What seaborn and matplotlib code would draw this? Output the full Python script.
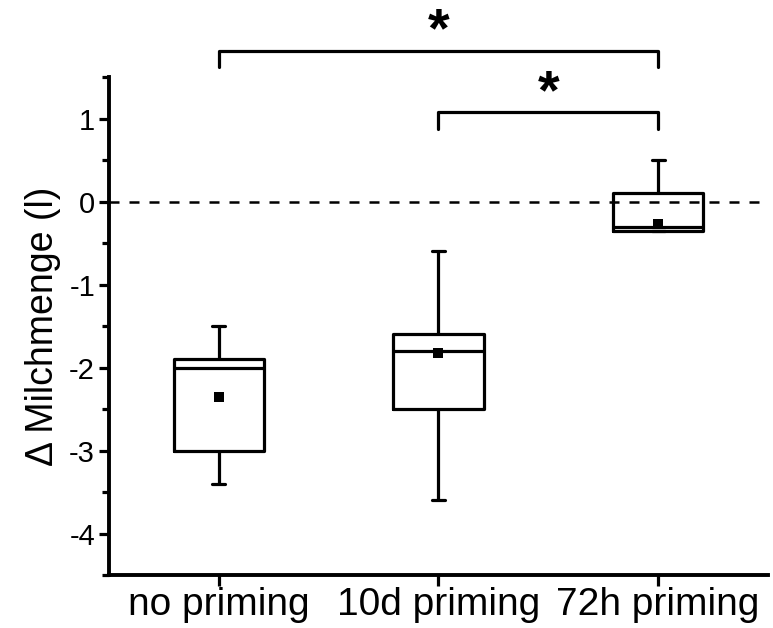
import matplotlib
matplotlib.use("Agg")
import matplotlib.pyplot as plt
from matplotlib.ticker import MultipleLocator
import pandas as pd
import seaborn as sns

# five-number summaries (min, q1, median, q3, max)
groups = ["no priming", "10d priming", "72h priming"]
whisker_low = [-3.4, -3.6, -0.35]
box_low = [-3.0, -2.5, -0.35]
medians = [-2.0, -1.8, -0.3]
box_high = [-1.9, -1.6, 0.1]
whisker_high = [-1.5, -0.6, 0.5]
means = [-2.35, -1.83, -0.27]

# significance brackets: (left group, right group, height, star height, label)
brackets = [(0, 2, 1.82, 2.12, "*"), (1, 2, 1.08, 1.37, "*")]

rows = []
for i, g in enumerate(groups):
    for v in (whisker_low[i], box_low[i], medians[i], box_high[i], whisker_high[i]):
        rows.append({"group": g, "value": v})
df = pd.DataFrame(rows)

sns.set_style("ticks")
plt.rcParams["font.family"] = ["Liberation Sans", "DejaVu Sans"]
plt.rcParams["text.color"] = "black"
plt.rcParams["axes.labelcolor"] = "black"

fig = plt.figure(figsize=(7.73, 6.28), dpi=100)
ax = fig.add_axes([0.141, 0.0844, 0.8525, 0.7926])

lw = 2.3
sns.boxplot(data=df, x="group", y="value", order=groups, whis=(0, 100),
            fill=False, color="black", linecolor="black", width=0.41,
            linewidth=lw, capwidths=0.06, ax=ax)
sns.stripplot(x=groups, y=means, order=groups, jitter=False, marker="s",
              size=7.5, color="black", linewidth=0, ax=ax, zorder=5)

ax.axhline(0, color="black", lw=1.8, ls=(0, (4, 4)), zorder=0)

for a, b, h, sh, label in brackets:
    ax.plot([a, a, b, b], [h - 0.2, h, h, h - 0.2], color="black", lw=lw,
            clip_on=False, solid_capstyle="round")
    ax.text((a + b) / 2, sh, label, ha="center", va="center_baseline",
            fontsize=40, fontweight="bold", color="black", clip_on=False)

ax.set_xlim(-0.5, 2.5)
ax.set_ylim(-4.5, 1.5)
ax.yaxis.set_major_locator(MultipleLocator(1))
ax.yaxis.set_minor_locator(MultipleLocator(0.5))
ax.set_yticks([-4, -3, -2, -1, 0, 1])
ax.set_yticklabels(["-4", "-3", "-2", "-1", "0", "1"])
ax.tick_params(axis="y", which="major", labelsize=21, length=7, width=2.3,
               direction="out", color="black", labelcolor="black", pad=3)
ax.tick_params(axis="y", which="minor", length=5, width=2.3, direction="out",
               color="black")
ax.tick_params(axis="x", labelsize=28, length=8, width=2.3, direction="out",
               pad=1, color="black", labelcolor="black")
ax.set_xlabel("")
ax.set_ylabel("\u0394 Milchmenge (l)", fontsize=27, labelpad=6, color="black")
sns.despine(ax=ax)
for s in ("left", "bottom"):
    ax.spines[s].set_linewidth(2.8)
    ax.spines[s].set_color("black")

fig.savefig("out.png", dpi=100)
